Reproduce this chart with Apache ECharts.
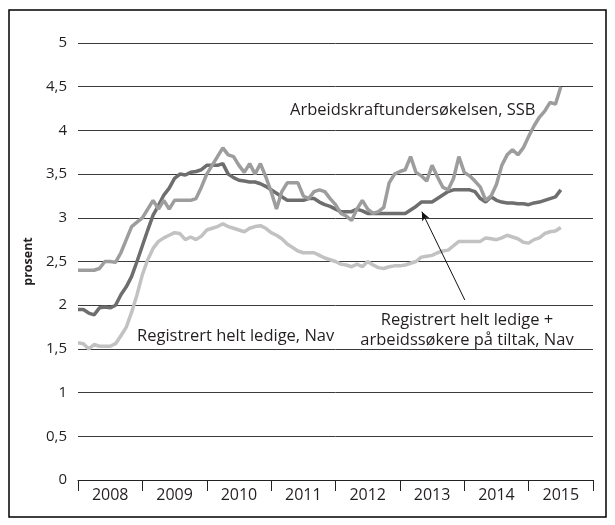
<!DOCTYPE html>
<html>
<head>
<meta charset="utf-8">
<script src="https://cdn.jsdelivr.net/npm/echarts@6/dist/echarts.min.js"></script>
<style>
  html, body { margin: 0; padding: 0; background: #fff; }
  #chart { width: 615px; height: 525px; }
</style>
</head>
<body>
<div id="chart"></div>
<script>
// år på x-aksen
const years = ['2008', '2009', '2010', '2011', '2012', '2013', '2014', '2015'];

// månedlige verdier, jan 2008 - jul 2015 (prosent)
const aku = [
  2.4, 2.4, 2.4, 2.4, 2.42, 2.5, 2.5, 2.49, 2.6, 2.75, 2.9, 2.95,
  3.0, 3.1, 3.2, 3.1, 3.2, 3.1, 3.2, 3.2, 3.2, 3.2, 3.22, 3.35,
  3.5, 3.6, 3.7, 3.8, 3.72, 3.7, 3.6, 3.52, 3.62, 3.5, 3.62, 3.47,
  3.3, 3.1, 3.3, 3.4, 3.4, 3.4, 3.25, 3.22, 3.3, 3.32, 3.3, 3.22,
  3.15, 3.05, 3.02, 2.97, 3.1, 3.2, 3.1, 3.05, 3.07, 3.12, 3.4, 3.5,
  3.53, 3.55, 3.7, 3.52, 3.48, 3.42, 3.6, 3.47, 3.35, 3.32, 3.45, 3.7,
  3.52, 3.48, 3.42, 3.35, 3.2, 3.25, 3.38, 3.6, 3.72, 3.78, 3.72, 3.8,
  3.93, 4.05, 4.15, 4.22, 4.32, 4.3, 4.5
];

const navTiltak = [
  1.95, 1.95, 1.91, 1.89, 1.97, 1.98, 1.97, 2.0, 2.12, 2.21, 2.33, 2.5,
  2.68, 2.86, 3.03, 3.14, 3.26, 3.34, 3.45, 3.5, 3.49, 3.52, 3.53, 3.55,
  3.6, 3.6, 3.6, 3.62, 3.5, 3.46, 3.43, 3.42, 3.41, 3.41, 3.39, 3.36,
  3.32, 3.28, 3.24, 3.2, 3.2, 3.2, 3.2, 3.22, 3.22, 3.18, 3.15, 3.13,
  3.1, 3.07, 3.07, 3.07, 3.1, 3.08, 3.05, 3.05, 3.05, 3.05, 3.05, 3.05,
  3.05, 3.05, 3.09, 3.13, 3.18, 3.18, 3.18, 3.22, 3.26, 3.3, 3.32, 3.32,
  3.32, 3.32, 3.3, 3.22, 3.18, 3.24, 3.2, 3.18, 3.17, 3.17, 3.16, 3.16,
  3.15, 3.17, 3.18, 3.2, 3.22, 3.24, 3.32
];

const navLedige = [
  1.57, 1.56, 1.5, 1.55, 1.53, 1.53, 1.53, 1.56, 1.65, 1.75, 1.92, 2.12,
  2.35, 2.52, 2.65, 2.73, 2.77, 2.8, 2.83, 2.82, 2.75, 2.78, 2.75, 2.79,
  2.86, 2.88, 2.9, 2.93, 2.9, 2.88, 2.86, 2.84, 2.88, 2.9, 2.91, 2.88,
  2.83, 2.8, 2.76, 2.7, 2.66, 2.62, 2.6, 2.6, 2.6, 2.57, 2.54, 2.52,
  2.5, 2.47, 2.46, 2.44, 2.47, 2.44, 2.5, 2.46, 2.43, 2.42, 2.44, 2.45,
  2.45, 2.46, 2.48, 2.5, 2.55, 2.56, 2.57, 2.6, 2.62, 2.63, 2.68, 2.73,
  2.73, 2.73, 2.73, 2.73, 2.77, 2.76, 2.75, 2.77, 2.8, 2.78, 2.76, 2.72,
  2.71, 2.75, 2.77, 2.82, 2.84, 2.85, 2.89
];

// månedsindeks fra januar 2008
const toPairs = arr => arr.map((v, i) => [i, v]);

const font = 'Open Sans';
const labelFont = '16.5px "Open Sans"';
const chart = echarts.init(document.getElementById('chart'));

chart.setOption({
  animation: false,
  textStyle: { fontFamily: font },
  grid: { left: 78, right: 22, top: 43, bottom: 45 },
  xAxis: [
    {
      type: 'category',
      data: years,
      boundaryGap: true,
      axisLine: { lineStyle: { color: '#222', width: 1 } },
      axisTick: { show: true, length: 11, lineStyle: { color: '#222' } },
      axisLabel: { color: '#231f20', fontSize: 16, margin: 7, fontFamily: font },
      splitLine: { show: false }
    },
    {
      type: 'value',
      min: 0,
      max: 96,
      show: false
    }
  ],
  yAxis: {
    type: 'value',
    min: 0,
    max: 5,
    interval: 0.5,
    name: 'prosent',
    nameLocation: 'middle',
    nameRotate: 90,
    nameGap: 34,
    nameTextStyle: { fontSize: 12.5, fontWeight: 'bold', color: '#231f20', fontFamily: font },
    axisLine: { show: false },
    axisTick: { show: false },
    axisLabel: {
      color: '#231f20',
      fontSize: 15,
      margin: 11,
      fontFamily: font,
      formatter: v => String(v).replace('.', ',')
    },
    splitLine: { lineStyle: { color: '#3a3a3a', width: 1 } }
  },
  series: [
    {
      name: 'Registrert helt ledige, Nav',
      type: 'line',
      xAxisIndex: 1,
      data: toPairs(navLedige),
      showSymbol: false,
      lineStyle: { color: '#c2c2c2', width: 3.5 }
    },
    {
      name: 'Registrert helt ledige + arbeidssøkere på tiltak, Nav',
      type: 'line',
      xAxisIndex: 1,
      data: toPairs(navTiltak),
      showSymbol: false,
      lineStyle: { color: '#6e6e6e', width: 3.5 },
      markLine: {
        silent: true,
        symbol: ['none', 'arrow'],
        symbolSize: [6, 9],
        label: { show: false },
        lineStyle: { color: '#111', width: 1, type: 'solid' },
        data: [[{ coord: [72.1, 2.06] }, { coord: [64.1, 3.07] }]]
      }
    },
    {
      name: 'Arbeidskraftundersøkelsen, SSB',
      type: 'line',
      xAxisIndex: 1,
      data: toPairs(aku),
      showSymbol: false,
      lineStyle: { color: '#9d9d9d', width: 3.5 }
    }
  ],
  graphic: [
    {
      type: 'rect',
      shape: { x: 9, y: 10, width: 597, height: 507 },
      style: { fill: 'none', stroke: '#000', lineWidth: 1.5 },
      silent: true
    },
    {
      type: 'text',
      left: 290,
      top: 102,
      style: { text: 'Arbeidskraftundersøkelsen, SSB', font: labelFont, fill: '#231f20' }
    },
    {
      type: 'text',
      left: 137,
      top: 328,
      style: { text: 'Registrert helt ledige, Nav', font: labelFont, fill: '#231f20' }
    },
    {
      type: 'text',
      x: 467,
      y: 310,
      style: {
        text: 'Registrert helt ledige +\narbeidssøkere på tiltak, Nav',
        font: labelFont,
        fill: '#231f20',
        align: 'center',
        lineHeight: 20
      }
    }
  ]
});
</script>
</body>
</html>
